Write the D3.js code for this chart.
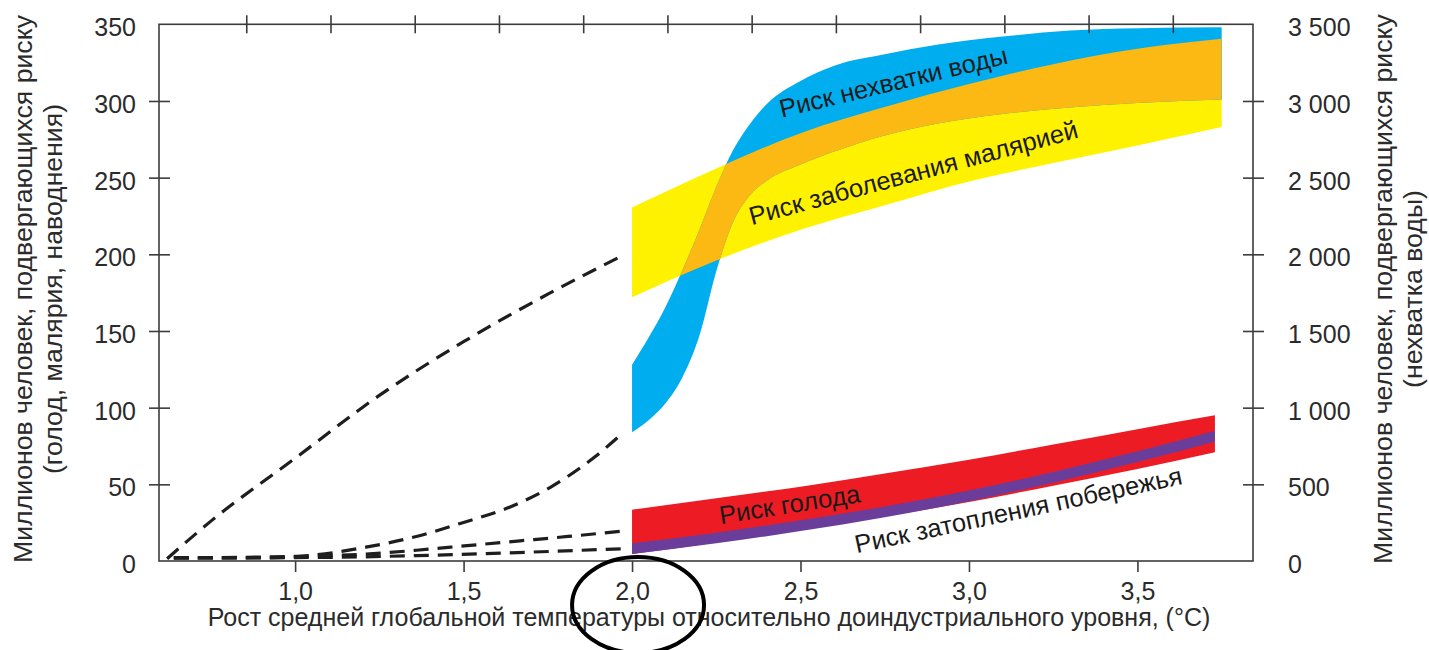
<!DOCTYPE html>
<html>
<head>
<meta charset="utf-8">
<script src="https://cdn.jsdelivr.net/npm/d3@7"></script>
<style>
  html, body { margin: 0; padding: 0; background: #fff; }
  svg { display: block; font-family: "Liberation Sans", Arial, Helvetica, sans-serif; }
</style>
</head>
<body>
<svg id="chart" width="1429" height="650"></svg>
<script>
// ---- axes -------------------------------------------------------------
const xTicks = [1.0, 1.5, 2.0, 2.5, 3.0, 3.5];
const xTickLabels = ["1,0", "1,5", "2,0", "2,5", "3,0", "3,5"];
const leftTicks = [0, 50, 100, 150, 200, 250, 300, 350];
const rightTicks = [0, 500, 1000, 1500, 2000, 2500, 3000, 3500];
const rightTickLabels = ["0", "500", "1 000", "1 500", "2 000", "2 500", "3 000", "3 500"];
// upper scale: warming relative to 1990 (unlabelled ticks)
const topTicks = [0.25, 0.5, 0.75, 1.0, 1.25, 1.5, 1.75, 2.0, 2.25, 2.5, 2.75, 3.0];
const warmingBy1990 = 0.605;

// ---- risk bands above 2 °C (millions of people) -----------------------
// malaria (left axis)
const malariaX    = [2.0, 2.25, 2.5, 2.75, 3.0, 3.25, 3.5, 3.75];
const malariaLow  = [172, 196, 216, 232, 247.5, 259.5, 271, 283];
const malariaHigh = [230.5, 256, 279, 296, 311, 324, 334, 340.5];

// water shortage (right axis)
const waterX    = [2.0, 2.05, 2.1, 2.15, 2.2, 2.25, 2.3, 2.35, 2.4, 2.5, 2.6, 2.75, 2.9, 3.1, 3.3, 3.5, 3.75];
const waterLow  = [840, 920, 1030, 1200, 1470, 1890, 2210, 2385, 2480, 2585, 2670, 2775, 2850, 2915, 2958, 2987, 3010];
const waterHigh = [1280, 1460, 1660, 1900, 2160, 2440, 2680, 2850, 2980, 3130, 3230, 3305, 3365, 3420, 3460, 3475, 3480];

// hunger and coastal flooding (left axis)
const hungerX    = [2.0, 2.25, 2.5, 2.75, 3.0, 3.25, 3.5, 3.73];
const hungerLow  = [4.5, 12, 20.5, 29, 38.5, 49, 60, 71];
const hungerHigh = [33.5, 41, 48.5, 57, 66, 76, 86, 95];
const coastLow   = [4.5, 11.5, 19.5, 28.5, 39, 51, 64.5, 78];
const coastHigh  = [11.5, 18.5, 26.5, 35.5, 46, 58, 71.5, 85];

// ---- projections below 2 °C (dashed) -----------------------------------
const malariaTrendX = [0.62, 0.75, 1.0, 1.25, 1.5, 1.75, 1.97];
const malariaTrend  = [1.5, 26, 67, 108, 143, 174, 199];
const waterTrendX   = [0.64, 0.9, 1.06, 1.21, 1.36, 1.49, 1.64, 1.76, 1.89, 1.97];
const waterTrend    = [20, 20, 40, 90, 160, 245, 354, 484, 680, 830];   // right axis
const hungerTrendX  = [0.64, 1.0, 1.21, 1.36, 1.51, 1.66, 1.81, 1.97];
const hungerTrend   = [2, 3, 4.5, 7, 10, 13, 16, 19.5];
const coastTrendX   = [0.64, 1.06, 1.36, 1.66, 1.97];
const coastTrend    = [2, 2.3, 3.5, 5.5, 8];

// ---- layout -----------------------------------------------------------
const box = { left: 159, right: 1253, top: 24.3, bottom: 561 };
const svg = d3.select("#chart");

const x = d3.scaleLinear().domain([0.596, 3.843]).range([box.left, box.right]);
const xTop = d3.scaleLinear().domain([0.596 - warmingBy1990, 3.843 - warmingBy1990]).range([box.left, box.right]);
const yL = d3.scaleLinear().domain([0, 350]).range([box.bottom, box.top]);
const yR = d3.scaleLinear().domain([0, 3500]).range([box.bottom, box.top]);

const axisColor = "#3c3c3c";
const textColor = "#2b2b2b";

const zip = (xs, lo, hi) => xs.map((v, i) => ({ x: v, lo: lo[i], hi: hi[i] }));
const pts = (xs, ys) => xs.map((v, i) => ({ x: v, y: ys[i] }));

const bandL = d3.area().x(d => x(d.x)).y0(d => yL(d.lo)).y1(d => yL(d.hi)).curve(d3.curveMonotoneX);
const bandR = d3.area().x(d => x(d.x)).y0(d => yR(d.lo)).y1(d => yR(d.hi)).curve(d3.curveMonotoneX);
const lineL = d3.line().x(d => x(d.x)).y(d => yL(d.y)).curve(d3.curveMonotoneX);
const lineR = d3.line().x(d => x(d.x)).y(d => yR(d.y)).curve(d3.curveMonotoneX);

// ---- dashed projections -------------------------------------------------
const dashes = svg.append("g")
  .attr("fill", "none").attr("stroke", "#1e1e1e")
  .attr("stroke-width", 3.2).attr("stroke-dasharray", "15 9");
dashes.append("path").attr("d", lineL(pts(malariaTrendX, malariaTrend)));
dashes.append("path").attr("d", lineR(pts(waterTrendX, waterTrend)));
dashes.append("path").attr("d", lineL(pts(hungerTrendX, hungerTrend)));
dashes.append("path").attr("d", lineL(pts(coastTrendX, coastTrend)));

// ---- malaria / water bands with their overlap --------------------------
const malariaPath = bandL(zip(malariaX, malariaLow, malariaHigh));
const waterPath = bandR(zip(waterX, waterLow, waterHigh));

svg.append("path").attr("d", malariaPath).attr("fill", "#fff200");
svg.append("path").attr("d", waterPath).attr("fill", "#00aeef");
svg.append("clipPath").attr("id", "waterClip").append("path").attr("d", waterPath);
svg.append("path").attr("d", malariaPath).attr("fill", "#fdb913").attr("clip-path", "url(#waterClip)");

// ---- hunger and coastal bands ------------------------------------------
svg.append("path").attr("d", bandL(zip(hungerX, hungerLow, hungerHigh))).attr("fill", "#ed1c24");
svg.append("path").attr("d", bandL(zip(hungerX, coastLow, coastHigh))).attr("fill", "#6a3d9a");

// ---- frame and axes -----------------------------------------------------
svg.append("rect")
  .attr("x", box.left).attr("y", box.top)
  .attr("width", box.right - box.left).attr("height", box.bottom - box.top)
  .attr("fill", "none").attr("stroke", axisColor).attr("stroke-width", 1.6);

const inner = (v, d) => v > d[0] && v < d[1];

// bottom axis
const gx = svg.append("g").attr("transform", `translate(0,${box.bottom})`)
  .call(d3.axisBottom(x).tickValues(xTicks).tickSize(11).tickPadding(10)
        .tickFormat((d, i) => xTickLabels[i]));
gx.select(".domain").remove();
gx.selectAll("line").attr("stroke", axisColor).attr("stroke-width", 1.6);
gx.selectAll("text").attr("fill", textColor).attr("font-size", 25);

// top axis (ticks cross the frame)
const gt = svg.append("g").attr("transform", `translate(0,${box.top})`)
  .call(d3.axisTop(xTop).tickValues(topTicks).tickSize(9).tickFormat(""));
gt.select(".domain").remove();
gt.selectAll("line").attr("y1", 9).attr("stroke", axisColor).attr("stroke-width", 1.6);

// left axis
const gl = svg.append("g").attr("transform", `translate(${box.left},0)`)
  .call(d3.axisLeft(yL).tickValues(leftTicks).tickSize(10).tickPadding(13));
gl.select(".domain").remove();
gl.selectAll("line").attr("x2", -10).attr("x1", 11).attr("stroke", axisColor).attr("stroke-width", 1.6)
  .style("display", d => inner(d, yL.domain()) ? null : "none");
gl.selectAll("text").attr("fill", textColor).attr("font-size", 25).attr("dy", "0.46em");

// right axis
const gr = svg.append("g").attr("transform", `translate(${box.right},0)`)
  .call(d3.axisRight(yR).tickValues(rightTicks).tickSize(10).tickPadding(25)
        .tickFormat((d, i) => rightTickLabels[i]));
gr.select(".domain").remove();
gr.selectAll("line").attr("x1", -10).attr("x2", 11).attr("stroke", axisColor).attr("stroke-width", 1.6)
  .style("display", d => inner(d, yR.domain()) ? null : "none");
gr.selectAll("text").attr("fill", textColor).attr("font-size", 25).attr("dy", "0.46em");
svg.selectAll(".tick text").attr("font-family", "\"Liberation Sans\", Arial, sans-serif");

// ---- axis titles ---------------------------------------------------------
const titles = svg.append("g").attr("fill", textColor).attr("font-size", 25);
titles.append("text")
  .attr("x", (box.left + box.right) / 2 + 3).attr("y", 626)
  .attr("text-anchor", "middle")
  .text("Рост средней глобальной температуры относительно доиндустриального уровня, (°C)");

const midY = 289;
function vTitle(cx, lines) {
  const g = titles.append("g").attr("transform", `translate(${cx},${midY}) rotate(-90)`);
  lines.forEach((l, i) => g.append("text").attr("x", 0).attr("y", i * 30)
    .attr("text-anchor", "middle")
    .attr("textLength", l.len).attr("lengthAdjust", "spacingAndGlyphs")
    .text(l.text));
}
vTitle(32, [
  { text: "Миллионов человек, подвергающихся риску", len: 548 },
  { text: "(голод, малярия, наводнения)", len: 370 }
]);
vTitle(1392, [
  { text: "Миллионов человек, подвергающихся риску", len: 550 },
  { text: "(нехватка воды)", len: 198 }
]);

// ---- band labels -----------------------------------------------------------
const labels = svg.append("g").attr("fill", "#1a1a1a").attr("font-size", 25.5);
function bandLabel(t, xv, yv, angle) {
  labels.append("text")
    .attr("transform", `translate(${x(xv)},${yL(yv)}) rotate(${angle})`)
    .text(t);
}
bandLabel("Риск нехватки воды", 2.444, 289, -13.5);
bandLabel("Риск заболевания малярией", 2.355, 219, -15);
bandLabel("Риск голода", 2.263, 24, -9);
bandLabel("Риск затопления побережья", 2.667, 5, -12);

// ---- highlight around 2 °C ------------------------------------------------------
svg.append("ellipse")
  .attr("cx", x(2.0) + 6).attr("cy", 605).attr("rx", 66).attr("ry", 48)
  .attr("fill", "none").attr("stroke", "#000").attr("stroke-width", 4);
</script>
</body>
</html>
